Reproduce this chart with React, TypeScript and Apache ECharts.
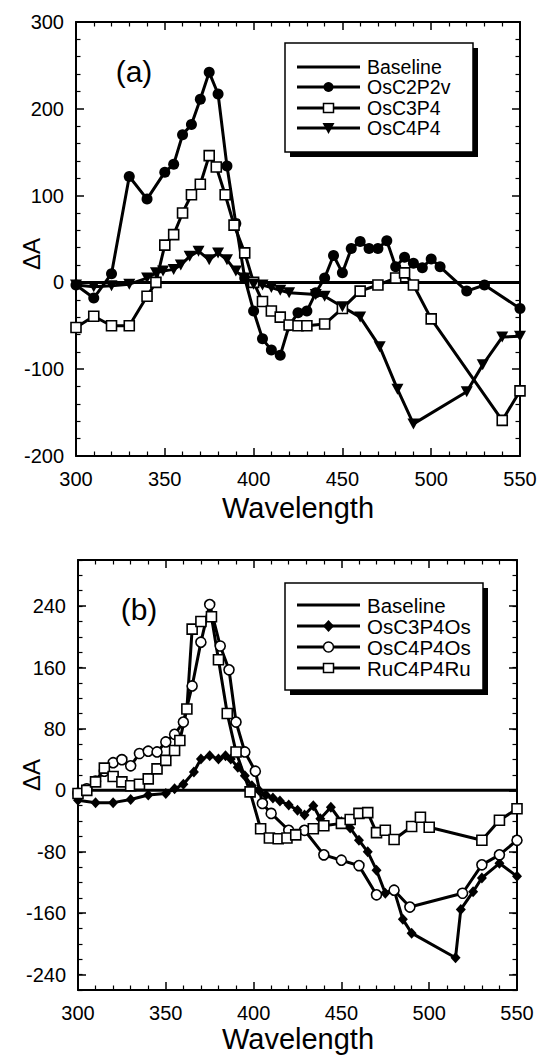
import React, { useEffect, useRef } from 'react';
import * as echarts from 'echarts';

// ---------- Panel (a) data ----------
const wlOsC2P2v = [300,310,320,330,340,350,355,360,365,370,375,380,385,390,395,400,405,410,415,420,425,430,435,440,445,450,455,460,465,470,475,480,485,490,495,500,505,520,530,550];
const valOsC2P2v = [-3,-18,10,122,96,127,136,170,182,211,242,217,134,68,5,-33,-65,-78,-84,-50,-35,-33,-12,5,31,11,39,47,39,39,48,18,29,22,17,27,18,-10,-3,-30];

const wlOsC3P4 = [300,310,320,330,340,345,350,355,360,365,370,375,379,384,389,395,400,405,410,415,420,425,430,440,450,460,470,480,485,490,500,540,550];
const valOsC3P4 = [-52,-39,-50,-50,-16,0,43,55,80,101,113,146,133,101,66,34,0,-22,-33,-40,-49,-50,-50,-48,-30,-10,-3,5,11,-3,-42,-159,-125];

const wlOsC4P4 = [300,310,320,330,340,345,349,355,359,364,369,375,380,385,390,395,400,405,410,415,420,435,440,450,460,471,481,490,520,529,540,550];
const valOsC4P4 = [-3,-5,-4,-2,5,11,13,15,20,30,36,26,34,26,13,5,-2,-3,-6,-9,-12,-14,-16,-28,-40,-74,-123,-163,-126,-95,-63,-62];

// ---------- Panel (b) data ----------
const wlOsC3P4Os = [300,310,320,330,340,350,355,360,366,370,375,380,384,387,391,395,399,403,407,411,415,420,425,429,434,438,444,450,455,460,465,470,475,480,485,490,515,518,525,530,540,550];
const valOsC3P4Os = [-13,-16,-16,-12,-6,-4,2,8,24,41,45,41,45,41,30,19,6,0,-6,-10,-14,-19,-26,-32,-20,-37,-22,-41,-49,-65,-80,-104,-134,-130,-168,-186,-218,-155,-132,-114,-95,-112];

const wlOsC4P4Os = [300,305,310,315,320,325,330,335,340,345,350,355,360,365,370,375,381,386,390,395,401,405,410,420,429,440,450,460,470,480,489,519,530,540,550];
const valOsC4P4Os = [-4,2,12,25,36,40,32,48,51,50,63,73,89,136,193,242,188,157,89,50,25,-17,-30,-52,-52,-84,-91,-98,-136,-130,-152,-134,-97,-84,-65];

const wlRuC4P4Ru = [300,305,310,315,320,325,330,335,340,345,350,355,358,362,365,370,376,380,385,390,398,404,409,414,419,424,434,440,450,455,460,465,470,475,480,490,495,500,530,540,550];
const valRuC4P4Ru = [-4,0,11,29,18,11,6,8,15,28,39,52,65,106,210,220,226,170,100,50,-2,-50,-62,-63,-62,-58,-50,-46,-43,-38,-30,-29,-55,-52,-64,-47,-35,-48,-65,-39,-24];

const baselineX = [300, 550];
const baselineY = [0, 0];

const yTicksB = [-240, -160, -80, 0, 80, 160, 240];

const FONT = 'Liberation Sans, Arial, Helvetica, sans-serif';

const zip = (xs: number[], ys: number[]) => xs.map((x, i) => [x, ys[i]]);

export default function App() {
  const ref = useRef<HTMLDivElement>(null);

  useEffect(() => {
    if (!ref.current) return;
    const chart = echarts.init(ref.current, undefined, { renderer: 'svg' });

    const frame = { show: true, onZero: false, lineStyle: { color: '#000', width: 2 } };
    const majorTick = (len: number) => ({ show: true, inside: true, length: len, lineStyle: { color: '#000', width: 1.5 } });
    const minor = { show: true, splitNumber: 5, length: 4.5, lineStyle: { color: '#000', width: 1.2 } };
    const lbl = { show: true, color: '#000', fontFamily: FONT, fontSize: 20 };

    const xa = (grid: number, pos: string, showLabel: boolean) => ({
      type: 'value', gridIndex: grid, position: pos, min: 300, max: 550, interval: 50,
      axisLine: frame, axisTick: majorTick(8), minorTick: minor, splitLine: { show: false },
      axisLabel: showLabel ? { ...lbl, margin: 13 } : { show: false },
    });

    const series: any[] = [];
    const addLine = (name: string, data: number[][], xi: number, yi: number, symbol: string, size: any, fill: string, rotate = 0, z = 3) => {
      series.push({
        type: 'line', name, data, xAxisIndex: xi, yAxisIndex: yi,
        symbol, symbolSize: size, symbolRotate: rotate, showSymbol: symbol !== 'none',
        lineStyle: { color: '#000', width: 3 },
        itemStyle: { color: fill, borderColor: '#000', borderWidth: fill === '#fff' ? 1.6 : 0 },
        silent: true, z, emphasis: { disabled: true },
      });
    };

    addLine('Baseline', zip(baselineX, baselineY), 0, 0, 'none', 0, '#000', 0, 2);
    addLine('OsC2P2v', zip(wlOsC2P2v, valOsC2P2v), 0, 0, 'circle', 11, '#000');
    addLine('OsC3P4', zip(wlOsC3P4, valOsC3P4), 0, 0, 'rect', 10, '#fff');
    addLine('OsC4P4', zip(wlOsC4P4, valOsC4P4), 0, 0, 'triangle', [12, 11], '#000', 180);

    addLine('Baseline ', zip(baselineX, baselineY), 2, 2, 'none', 0, '#000', 0, 2);
    addLine('OsC3P4Os', zip(wlOsC3P4Os, valOsC3P4Os), 2, 2, 'diamond', [10, 11], '#000');
    addLine('OsC4P4Os', zip(wlOsC4P4Os, valOsC4P4Os), 2, 2, 'circle', 10, '#fff');
    addLine('RuC4P4Ru', zip(wlRuC4P4Ru, valRuC4P4Ru), 2, 2, 'rect', 10, '#fff');

    // Legend graphics
    const legend = (x0: number, y0: number, w: number, h: number, rows: { name: string; m: string; y: number }[], fs: number) => {
      const children: any[] = [
        { type: 'rect', shape: { x: x0 + 5, y: y0 + 5, width: w, height: h }, style: { fill: '#000' } },
        { type: 'rect', shape: { x: x0, y: y0, width: w, height: h }, style: { fill: '#fff', stroke: '#000', lineWidth: 1.5 } },
      ];
      const lx0 = x0 + 12, lx1 = x0 + 75, cx = (lx0 + lx1) / 2;
      rows.forEach((r) => {
        const cy = r.y;
        children.push({ type: 'line', shape: { x1: lx0, y1: cy, x2: lx1, y2: cy }, style: { stroke: '#000', lineWidth: 3 } });
        if (r.m === 'circle') children.push({ type: 'circle', shape: { cx, cy, r: 5 }, style: { fill: '#000' } });
        if (r.m === 'ocircle') children.push({ type: 'circle', shape: { cx, cy, r: 5 }, style: { fill: '#fff', stroke: '#000', lineWidth: 1.5 } });
        if (r.m === 'square') children.push({ type: 'rect', shape: { x: cx - 5, y: cy - 4.5, width: 10, height: 9 }, style: { fill: '#fff', stroke: '#000', lineWidth: 1.5 } });
        if (r.m === 'tri') children.push({ type: 'polygon', shape: { points: [[cx - 6, cy - 5], [cx + 6, cy - 5], [cx, cy + 6]] }, style: { fill: '#000' } });
        if (r.m === 'diamond') children.push({ type: 'polygon', shape: { points: [[cx, cy - 6], [cx + 5.5, cy], [cx, cy + 6], [cx - 5.5, cy]] }, style: { fill: '#000' } });
        children.push({ type: 'text', x: lx1 + 7, y: cy, style: { text: r.name, fill: '#000', font: `${fs}px ${FONT}`, textAlign: 'left', textVerticalAlign: 'middle' } });
      });
      return { type: 'group', z: 100, children };
    };

    const option: any = {
      animation: false,
      backgroundColor: '#fff',
      grid: [
        { left: 76, top: 22, width: 444, height: 434, outerBoundsMode: 'none', containLabel: false },
        { left: 78, top: 560, width: 439, height: 430, outerBoundsMode: 'none', containLabel: false },
      ],
      xAxis: [xa(0, 'bottom', true), xa(0, 'top', false), xa(1, 'bottom', true), xa(1, 'top', false)],
      yAxis: [
        { type: 'value', gridIndex: 0, position: 'left', min: -200, max: 300, interval: 100,
          axisLine: frame, axisTick: majorTick(8), minorTick: minor, splitLine: { show: false },
          axisLabel: { ...lbl, margin: 12 } },
        { type: 'value', gridIndex: 0, position: 'right', min: -200, max: 300, interval: 100,
          axisLine: frame, axisTick: majorTick(8), minorTick: minor, splitLine: { show: false },
          axisLabel: { show: false } },
        { type: 'value', gridIndex: 1, position: 'left', min: -260, max: 300, interval: 20,
          axisLine: frame, axisTick: { ...majorTick(4.5), lineStyle: { color: '#000', width: 1.2 } }, splitLine: { show: false },
          axisLabel: { show: false } },
        { type: 'value', gridIndex: 1, position: 'right', min: -260, max: 300, interval: 20,
          axisLine: frame, axisTick: { ...majorTick(4.5), lineStyle: { color: '#000', width: 1.2 } }, splitLine: { show: false },
          axisLabel: { show: false } },
        { type: 'value', gridIndex: 1, position: 'left', min: -260, max: 300,
          axisLine: { show: false }, axisTick: { ...majorTick(8), customValues: yTicksB }, splitLine: { show: false },
          axisLabel: { ...lbl, margin: 12, customValues: yTicksB } },
        { type: 'value', gridIndex: 1, position: 'right', min: -260, max: 300,
          axisLine: { show: false }, axisTick: { ...majorTick(8), customValues: yTicksB }, splitLine: { show: false },
          axisLabel: { show: false } },
      ],
      series,
      graphic: [
        { type: 'text', x: 134, y: 71, style: { text: '(a)', fill: '#000', font: `30px ${FONT}`, textAlign: 'center', textVerticalAlign: 'middle' } },
        { type: 'text', x: 139, y: 609, style: { text: '(b)', fill: '#000', font: `30px ${FONT}`, textAlign: 'center', textVerticalAlign: 'middle' } },
        { type: 'text', x: 298, y: 508, style: { text: 'Wavelength', fill: '#000', font: `29px ${FONT}`, textAlign: 'center', textVerticalAlign: 'middle' } },
        { type: 'text', x: 298, y: 1039, style: { text: 'Wavelength', fill: '#000', font: `29px ${FONT}`, textAlign: 'center', textVerticalAlign: 'middle' } },
        { type: 'text', x: 31, y: 254, rotation: Math.PI / 2, style: { text: 'ΔA', fill: '#000', font: `24px ${FONT}`, textAlign: 'center', textVerticalAlign: 'middle' } },
        { type: 'text', x: 31, y: 775, rotation: Math.PI / 2, style: { text: 'ΔA', fill: '#000', font: `24px ${FONT}`, textAlign: 'center', textVerticalAlign: 'middle' } },
        legend(285, 43, 188, 109, [
          { name: 'Baseline', m: 'none', y: 67 },
          { name: 'OsC2P2v', m: 'circle', y: 87 },
          { name: 'OsC3P4', m: 'square', y: 108 },
          { name: 'OsC4P4', m: 'tri', y: 128 },
        ], 19.5),
        legend(285, 583, 198, 107, [
          { name: 'Baseline', m: 'none', y: 605 },
          { name: 'OsC3P4Os', m: 'diamond', y: 626 },
          { name: 'OsC4P4Os', m: 'ocircle', y: 647 },
          { name: 'RuC4P4Ru', m: 'square', y: 668 },
        ], 20.5),
      ],
    };

    chart.setOption(option);
    return () => chart.dispose();
  }, []);

  return <div ref={ref} style={{ position: 'absolute', left: 0, top: 0, width: 540, height: 1055, background: '#fff' }} />;
}
